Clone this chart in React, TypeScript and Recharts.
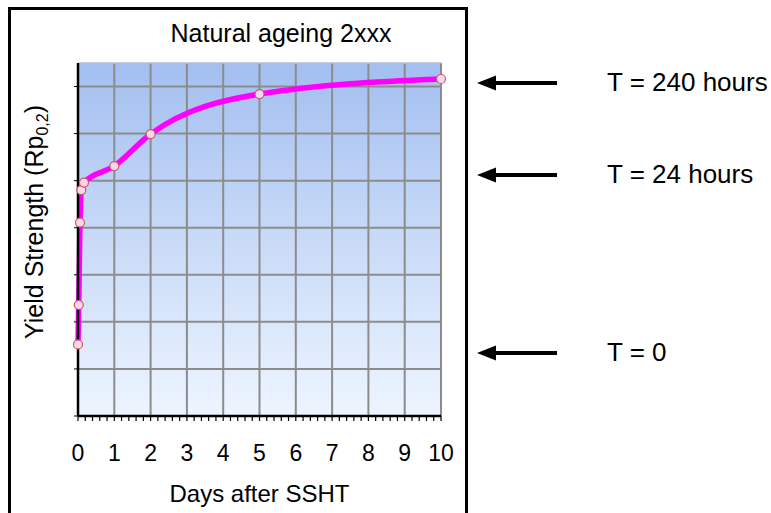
import React from 'react';
import { LineChart, Line, XAxis, YAxis, CartesianGrid, ReferenceLine } from 'recharts';

// days after solution heat treatment vs yield strength (grid units, no scale given)
const days = [0, 0.02, 0.055, 0.09, 0.165, 1, 2, 5, 10];
const strength = [1.52, 2.36, 4.11, 4.8, 4.96, 5.31, 5.99, 6.84, 7.16];

const dayTicks = [0, 1, 2, 3, 4, 5, 6, 7, 8, 9, 10];
const strengthTicks = [0, 1, 2, 3, 4, 5, 6, 7];
const minorPerDay = 5;

const markers = ['T = 240 hours', 'T = 24 hours', 'T = 0'];
const markerRows = [83, 175, 353];

const FONT = '"Liberation Sans", Arial, sans-serif';

const minorTicks = dayTicks.slice(0, -1).flatMap(d =>
  Array.from({ length: minorPerDay }, (_, k) => d + k / minorPerDay)
).concat(dayTicks[dayTicks.length - 1]);

const data = days.map((d, i) => ({ day: d, ys: strength[i] }));

const Arrow = ({ y }: { y: number }) => (
  <g>
    <line x1={490} y1={y} x2={557} y2={y} stroke="#000" strokeWidth={4} />
    <polygon points={`477,${y} 496,${y - 7.5} 496,${y + 7.5}`} fill="#000" />
  </g>
);

export default function App() {
  return (
    <div style={{ position: 'absolute', left: 0, top: 0, width: 771, height: 513, background: '#fff', overflow: 'hidden', fontFamily: FONT }}>
      <div style={{ position: 'absolute', left: 8, top: 7, width: 460, height: 530, border: '3px solid #000', boxSizing: 'border-box' }} />
      <div style={{ position: 'absolute', left: 0, top: 0 }}>
        <LineChart width={771} height={513} data={data} margin={{ top: 63, right: 330, bottom: 52, left: 0 }}>
          <defs>
            <linearGradient id="plotBg" x1="0" y1="0" x2="0" y2="1">
              <stop offset="0%" stopColor="#a3bff0" />
              <stop offset="100%" stopColor="#eef5ff" />
            </linearGradient>
          </defs>
          <CartesianGrid
            fill="url(#plotBg)"
            stroke="#8c8c8c"
            strokeWidth={2}
            verticalValues={dayTicks}
            horizontalValues={strengthTicks}
          />
          <ReferenceLine y={7.5} stroke="#b4bfd0" strokeWidth={1.5} />
          <XAxis
            dataKey="day"
            type="number"
            domain={[0, 10]}
            ticks={minorTicks}
            interval={0}
            tickFormatter={(v: number) => (Number.isInteger(v) ? String(v) : '')}
            height={45}
            tickSize={5}
            tickMargin={24}
            axisLine={{ stroke: '#000', strokeWidth: 2.5 }}
            tickLine={{ stroke: '#000', strokeWidth: 1.2 }}
            tick={{ fill: '#000', fontSize: 23, fontFamily: FONT }}
            label={{
              content: ({ viewBox }: any) => (
                <text x={viewBox.x + viewBox.width / 2} y={viewBox.y + 86} textAnchor="middle" fontSize={24} fontFamily={FONT} fill="#000">
                  Days after SSHT
                </text>
              ),
            }}
          />
          <YAxis
            type="number"
            domain={[0, 7.5]}
            ticks={strengthTicks}
            width={78}
            tickSize={4}
            tickFormatter={() => ''}
            axisLine={{ stroke: '#000', strokeWidth: 2.5 }}
            tickLine={{ stroke: '#000', strokeWidth: 1 }}
          />
          <Line
            type="monotone"
            dataKey="ys"
            stroke="#ff00ff"
            strokeWidth={5.5}
            dot={{ r: 4.5, fill: '#f9d6ee', stroke: '#c85a68', strokeWidth: 1.2 }}
            isAnimationActive={false}
          />
        </LineChart>
      </div>
      <svg width={771} height={513} style={{ position: 'absolute', left: 0, top: 0, pointerEvents: 'none' }}>
        <text x={281} y={42} textAnchor="middle" fontSize={25} fontFamily={FONT} fill="#000">
          Natural ageing 2xxx
        </text>
        <text x={43} y={222} transform="rotate(-90, 43, 222)" textAnchor="middle" fontSize={25} fontFamily={FONT} fill="#000">
          Yield Strength (Rp<tspan dy={5} fontSize={16}>0,2</tspan><tspan dy={-5}>)</tspan>
        </text>
        {markers.map((m, i) => (
          <g key={m}>
            <Arrow y={markerRows[i]} />
            <text x={607} y={markerRows[i] + 8} fontSize={26} fontFamily={FONT} fill="#000">
              {m}
            </text>
          </g>
        ))}
      </svg>
    </div>
  );
}
